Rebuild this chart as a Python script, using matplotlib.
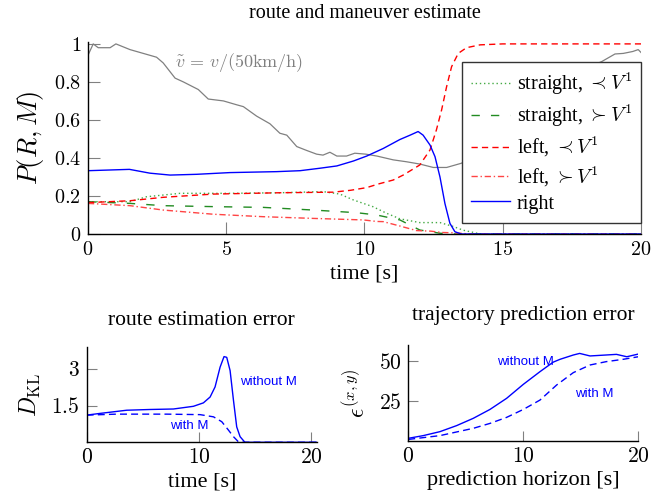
# route / maneuver estimate with two error plots below
import matplotlib
matplotlib.use("Agg")
import matplotlib.pyplot as plt

plt.rcParams['font.family'] = ['Liberation Serif', 'DejaVu Serif']
plt.rcParams['mathtext.fontset'] = 'cm'

# speed (grey), normalised by 50 km/h
t_speed = [0, 0.19, 0.37, 0.8, 1.01, 1.52, 2.0, 2.48, 2.72, 3.15, 3.45, 3.99, 4.35, 4.9, 5.37,
           5.62, 6.1, 6.58, 6.94, 7.19, 7.55, 7.9, 8.27, 8.5, 8.75, 9.0, 9.35, 9.65, 10.05,
           10.45, 11.04, 11.52, 12.0, 12.49, 12.97, 13.5, 14.5, 15.5, 16.5, 17.5, 18.58,
           19.06, 19.36, 19.7, 19.9, 20]
speed = [0.94, 1.0, 0.98, 0.98, 1.0, 0.97, 0.95, 0.93, 0.90, 0.82, 0.80, 0.76, 0.71, 0.70, 0.68,
         0.67, 0.62, 0.58, 0.53, 0.52, 0.46, 0.44, 0.42, 0.415, 0.43, 0.41, 0.41, 0.425, 0.42,
         0.41, 0.39, 0.38, 0.368, 0.35, 0.35, 0.372, 0.45, 0.58, 0.72, 0.84, 0.907,
         0.947, 0.95, 0.96, 0.97, 0.955]

t_right = [0, 1.5, 2.24, 2.97, 3.93, 5.13, 6.82, 7.67, 8.39, 9.0, 9.6, 10.08, 10.68, 11.28,
           11.65, 11.94, 12.12, 12.37, 12.55, 12.73, 12.91, 13.09, 13.27, 13.5, 20]
right = [0.333, 0.34, 0.32, 0.31, 0.314, 0.323, 0.328, 0.333, 0.346, 0.358, 0.384, 0.41, 0.45,
         0.497, 0.52, 0.539, 0.52, 0.468, 0.407, 0.30, 0.16, 0.056, 0.012, 0, 0]

t_left_prec = [0, 1.52, 2.72, 4.53, 6.94, 8.87, 9.5, 10.08, 10.5, 11.04, 11.4, 12.0, 12.37, 12.6,
               12.79, 12.97, 13.15, 13.39, 13.69, 14.18, 15, 20]
left_prec = [0.165, 0.175, 0.193, 0.21, 0.217, 0.22, 0.23, 0.244, 0.263, 0.284, 0.31, 0.363,
             0.442, 0.547, 0.653, 0.775, 0.88, 0.95, 0.98, 0.995, 1.0, 1.0]

t_left_succ = [0, 1.52, 2.72, 4.53, 6.34, 8.15, 9.96, 10.44, 10.68, 11.28, 11.88, 12.4, 12.8,
               13.3, 13.8, 20]
left_succ = [0.161, 0.149, 0.126, 0.104, 0.091, 0.082, 0.074, 0.066, 0.065, 0.042, 0.018, 0.015,
             0.008, 0.006, 0, 0]

t_straight_prec = [0, 1.52, 2.12, 3.33, 5.13, 6.94, 8.5, 9.11, 9.6, 10.3, 10.8, 11.28, 12.0,
                   12.73, 13.2, 13.57, 14.2, 20]
straight_prec = [0.17, 0.17, 0.196, 0.214, 0.214, 0.217, 0.223, 0.21, 0.179, 0.144, 0.109,
                 0.08, 0.06, 0.06, 0.04, 0.02, 0, 0]

t_straight_succ = [0, 1.52, 2.72, 4.53, 6.34, 8.15, 9.72, 10.44, 11.28, 12.0, 12.73, 13.3, 20]
straight_succ = [0.17, 0.161, 0.149, 0.144, 0.14, 0.126, 0.112, 0.1, 0.074, 0.021, 0.004, 0, 0]

# route estimation error (KL divergence)
t_kl = [0, 1.19, 3.57, 5.65, 7.73, 9.51, 10.4, 11.0, 11.44, 11.89, 12.24, 12.48, 12.78, 13.08,
        13.37, 13.67, 14.1, 20.5]
kl_without = [1.11, 1.18, 1.31, 1.34, 1.36, 1.47, 1.61, 1.85, 2.26, 3.07, 3.50, 3.47, 2.93,
              1.72, 0.63, 0.23, 0, 0]
t_kl_with = [0, 2.67, 7.13, 10.1, 11.3, 12.04, 12.63, 13.08, 13.5, 14.0, 20.5]
kl_with = [1.11, 1.15, 1.15, 1.13, 1.04, 0.84, 0.5, 0.23, 0.03, 0, 0]

# trajectory prediction error
hor_without = [0, 1.3, 2.75, 4.2, 5.65, 7.1, 8.55, 10, 11.45, 12.6, 13.2, 14.35, 14.9, 15.8,
               17.2, 18.1, 19, 20]
traj_without = [1.5, 3.2, 5.7, 9.5, 14.1, 19.7, 26.7, 35.5, 43.5, 49.5, 51.3, 54, 55, 53.4,
                54, 54.4, 52.9, 54.6]
hor_with = [0, 2.75, 5.65, 7.1, 8.55, 10, 11.45, 12.9, 14.35, 15.8, 17.2, 18.7, 20]
traj_with = [0.8, 3.2, 7.8, 10.9, 14.7, 19.7, 25.6, 35.1, 42.9, 47.7, 49.8, 51.3, 52.9]

fig = plt.figure(figsize=(6.7, 5.0), dpi=100)


def style(ax, tlen, fs):
    ax.spines['top'].set_visible(False)
    ax.spines['right'].set_visible(False)
    for s in ('left', 'bottom'):
        ax.spines[s].set_linewidth(1.0)
    ax.tick_params(direction='in', length=tlen, width=0.8, color='#808080',
                   labelsize=fs, pad=5)


def mlabels(vals):
    return ['$%g$' % v for v in vals]


# main plot
ax = fig.add_axes([0.1313, 0.532, 0.8254, 0.384])
ax.plot(t_speed, speed, color='#808080', lw=0.9)
ax.plot(t_straight_prec, straight_prec, color='#44aa44', lw=1.0, ls=(0, (1, 2)),
        label=r'straight, $\prec V^1$')
ax.plot(t_straight_succ, straight_succ, color='#228b22', lw=1.0, ls=(0, (6, 8)),
        label=r'straight, $\succ V^1$')
ax.plot(t_left_prec, left_prec, color='#ff0000', lw=1.0, ls=(0, (4.5, 3)),
        label=r'left, $\prec V^1$')
ax.plot(t_left_succ, left_succ, color='#ff4444', lw=1.0, ls=(0, (4.5, 2, 1, 2)),
        label=r'left, $\succ V^1$')
ax.plot(t_right, right, color='#0000ff', lw=1.0, label='right')
ax.text(3.15, 0.9, r'$\tilde{v}\,=\,v/(50\mathrm{km/h})$', color='#808080', fontsize=13,
        va='center', ha='left')
xt = [0, 5, 10, 15, 20]
yt = [0, 0.2, 0.4, 0.6, 0.8, 1]
ax.set_xlim(0, 20)
ax.set_ylim(0, 1.01)
ax.set_xticks(xt)
ax.set_xticklabels(mlabels(xt))
ax.set_yticks(yt)
ax.set_yticklabels(mlabels(yt))
style(ax, 8.5, 14.5)
ax.set_xlabel('time [s]', fontsize=16, labelpad=3)
ax.set_ylabel(r'$P(R,M)$', fontsize=19, labelpad=6)
ax.set_title('route and maneuver estimate', fontsize=14.5, pad=17)
leg = ax.legend(loc='upper right', bbox_to_anchor=(1.0, 0.897), borderaxespad=0,
                fontsize=14.5, handlelength=1.9, labelspacing=0.27, fancybox=False,
                framealpha=1, edgecolor='#333333', borderpad=0.45, handletextpad=0.35)
leg.get_frame().set_linewidth(1.0)

# route estimation error
ax2 = fig.add_axes([0.1294, 0.1154, 0.3433, 0.191])
ax2.plot(t_kl, kl_without, color='#0000ff', lw=1.0)
ax2.plot(t_kl_with, kl_with, color='#0000ff', lw=1.0, ls=(0, (5, 3)))
ax2.text(13.65, 2.47, 'without M', color='#0000ff', fontsize=9.5, family='Liberation Sans',
         va='center', ha='left')
ax2.text(7.4, 0.66, 'with M', color='#0000ff', fontsize=9.5, family='Liberation Sans',
         va='center', ha='left')
ax2.set_xlim(0, 20.5)
ax2.set_ylim(0, 3.9)
ax2.set_xticks([0, 10, 20])
ax2.set_xticklabels(mlabels([0, 10, 20]))
ax2.set_yticks([1.5, 3])
ax2.set_yticklabels(mlabels([1.5, 3]))
style(ax2, 7, 15.5)
ax2.set_xlabel('time [s]', fontsize=16, labelpad=3)
ax2.set_ylabel(r'$D_{\mathrm{KL}}$', fontsize=17, labelpad=6)
ax2.set_title('route estimation error', fontsize=15.5, pad=16)

# trajectory prediction error
ax3 = fig.add_axes([0.6094, 0.1186, 0.3433, 0.1914])
ax3.plot(hor_without, traj_without, color='#0000ff', lw=1.0)
ax3.plot(hor_with, traj_with, color='#0000ff', lw=1.0, ls=(0, (5, 3)))
ax3.text(7.69, 49.8, 'without M', color='#0000ff', fontsize=9.5, family='Liberation Sans',
         va='center', ha='left')
ax3.text(14.5, 29.4, 'with M', color='#0000ff', fontsize=9.5, family='Liberation Sans',
         va='center', ha='left')
ax3.set_xlim(0, 20)
ax3.set_ylim(0, 60.3)
ax3.set_xticks([0, 10, 20])
ax3.set_xticklabels(mlabels([0, 10, 20]))
ax3.set_yticks([25, 50])
ax3.set_yticklabels(mlabels([25, 50]))
style(ax3, 7, 15.5)
ax3.set_xlabel('prediction horizon [s]', fontsize=16, labelpad=3)
ax3.set_ylabel(r'$\epsilon^{(x,y)}$', fontsize=17, labelpad=6)
ax3.set_title('trajectory prediction error', fontsize=15.5, pad=18)

fig.savefig('out.png', dpi=100)
